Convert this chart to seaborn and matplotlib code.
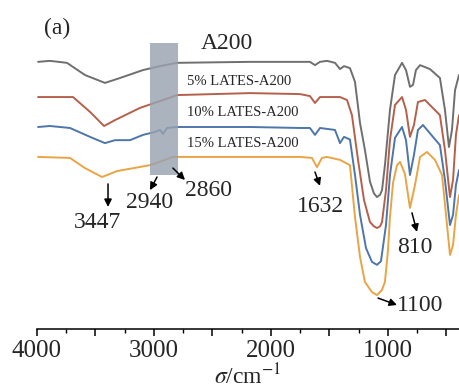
import numpy as np
import pandas as pd
import matplotlib
matplotlib.use("Agg")
import matplotlib.pyplot as plt
from matplotlib.patches import Rectangle
from matplotlib.ticker import MultipleLocator, FuncFormatter
import seaborn as sns

# ---- data (wavenumber in cm^-1, transmittance in arbitrary offset units) ----
wn_a200 = [3991, 3889, 3744, 3590, 3419, 3290, 3094, 2949, 2803, 2179, 1752, 1667, 1624, 1581,
           1521, 1453, 1410, 1376, 1325, 1282, 1239, 1197, 1154, 1120, 1094, 1068, 1051, 1026,
           983, 940, 880, 846, 812, 786, 761, 726, 641, 556, 513, 479, 453, 427, 393]
t_a200 = [81.2, 81.5, 80.9, 77.2, 74.8, 76.3, 78.7, 79.9, 80.9, 81.2, 81.2, 81.2, 80.2, 81.2,
          81.5, 80.9, 79.0, 79.9, 79.3, 75.1, 62.6, 54.4, 44.8, 41.2, 40.1, 40.8, 42.2, 49.8,
          66.6, 77.2, 80.9, 78.7, 73.6, 74.2, 78.7, 80.2, 79.0, 76.3, 66.6, 55.3, 60.5, 72.6, 77.2]

wn_5 = [3991, 3692, 3547, 3427, 3333, 3120, 2923, 2803, 2179, 1752, 1667, 1624, 1581, 1410,
        1350, 1308, 1256, 1205, 1154, 1120, 1094, 1068, 1051, 1017, 983, 940, 880, 846, 812,
        778, 744, 684, 556, 513, 470, 444, 419, 393]
t_5 = [70.5, 70.5, 66.0, 61.7, 63.5, 67.2, 69.6, 71.1, 71.7, 71.4, 70.8, 68.7, 70.5, 70.5,
       69.6, 65.0, 51.4, 39.2, 32.5, 31.2, 30.7, 31.2, 32.5, 42.2, 57.4, 68.1, 70.5, 66.6,
       58.4, 62.0, 69.0, 69.6, 65.0, 54.4, 40.1, 45.3, 59.0, 65.0]

wn_10 = [3991, 3889, 3718, 3547, 3419, 3333, 3205, 3094, 2991, 2949, 2923, 2889, 2803, 2179,
         1752, 1667, 1624, 1581, 1453, 1410, 1376, 1325, 1282, 1239, 1188, 1137, 1094, 1060,
         1017, 983, 940, 880, 846, 812, 778, 744, 701, 556, 513, 470, 444, 419, 393]
t_10 = [61.4, 61.7, 61.1, 58.4, 56.5, 57.4, 57.4, 59.0, 59.9, 60.5, 59.3, 61.1, 61.4, 61.4,
        61.1, 61.1, 59.0, 61.1, 60.5, 56.5, 58.4, 57.6, 46.8, 34.7, 24.6, 20.4, 19.5, 20.6,
        31.6, 46.8, 58.1, 61.4, 57.4, 46.8, 52.9, 60.5, 62.0, 55.9, 45.3, 31.6, 34.7, 43.8, 48.3]

wn_15 = [3991, 3718, 3590, 3444, 3316, 3034, 2906, 2838, 2179, 1752, 1650, 1607, 1564, 1521,
         1410, 1325, 1282, 1239, 1197, 1137, 1094, 1051, 1026, 1000, 983, 957, 923, 897, 855,
         812, 769, 726, 667, 598, 538, 504, 470, 444, 419, 393]
t_15 = [52.3, 52.0, 48.9, 46.2, 48.0, 49.8, 51.4, 52.3, 52.3, 52.3, 52.0, 49.2, 52.0, 52.3,
        51.4, 49.8, 34.0, 21.9, 14.3, 11.2, 10.3, 11.9, 14.3, 24.0, 34.0, 44.4, 49.8, 50.8,
        47.1, 36.8, 43.8, 52.3, 53.8, 51.4, 46.8, 34.7, 22.5, 25.5, 34.7, 40.7]

series_names = ["A200", "5% LATES-A200", "10% LATES-A200", "15% LATES-A200"]
series_colors = ["#6f6f6f", "#b5604b", "#4d76aa", "#e8a545"]

peak_labels = ["3447", "2940", "2860", "1632", "810", "1100"]
peak_text_xy = [(3487, 32.5), (3034, 38.3), (2530, 42.0), (1573, 37.1), (769, 24.9), (726, 7.0)]
peak_arrow_from = [(3393, 44.1), (2974, 46.2), (2838, 48.9), (1624, 47.7), (795, 35.3), (1085, 9.4)]
peak_arrow_to = [(3393, 37.1), (3034, 42.2), (2735, 45.3), (1581, 43.5), (752, 29.5), (923, 7.3)]

xticks_major = [4000, 3500, 3000, 2500, 2000, 1500, 1000, 500]

# ---- build long table ----
frames = []
for name, wn, t in zip(series_names,
                       [wn_a200, wn_5, wn_10, wn_15],
                       [t_a200, t_5, t_10, t_15]):
    frames.append(pd.DataFrame({"wn": wn, "T": t, "sample": name}))
df = pd.concat(frames, ignore_index=True)

sns.set_theme(style="white")
plt.rcParams["font.family"] = ["Liberation Serif", "DejaVu Serif"]
plt.rcParams["mathtext.fontset"] = "stix"

fig = plt.figure(figsize=(4.59, 3.91), dpi=100)
ax = fig.add_axes([37 / 459, (391 - 329) / 391, 1 - 37 / 459, 329 / 391])

sns.lineplot(data=df, x="wn", y="T", hue="sample", hue_order=series_names,
             palette=series_colors, estimator=None, sort=False, lw=1.4,
             legend=False, ax=ax)

ax.set_xlim(4000, 393)
ax.set_ylim(0, 100)

# highlight band
ax.add_patch(Rectangle((2795, 46.8), 3034 - 2795, 86.9 - 46.8,
                       facecolor="#99a2b0", edgecolor="none", alpha=0.82, zorder=3))

# texts
ax.text(3829, 91.5, "(a)", fontsize=17, ha="center", va="center")
ax.text(2376, 86.9, "A200", fontsize=17, ha="center", va="center")
for name, yv in zip(series_names[1:], [75.1, 65.7, 56.5]):
    ax.text(2718, yv, name, fontsize=10.5, ha="left", va="center")

for lab, txy, a0, a1 in zip(peak_labels, peak_text_xy, peak_arrow_from, peak_arrow_to):
    ax.text(txy[0], txy[1], lab, fontsize=17, ha="center", va="center")
    ax.annotate("", xy=a1, xytext=a0,
                arrowprops=dict(arrowstyle="-|>", color="black", lw=1.1,
                                mutation_scale=11, shrinkA=0, shrinkB=0), zorder=4)

# axes styling
for s in ["left", "right", "top"]:
    ax.spines[s].set_visible(False)
ax.spines["bottom"].set_color("black")
ax.spines["bottom"].set_linewidth(1.1)
ax.set_yticks([])
ax.set_xticks(xticks_major)
ax.xaxis.set_minor_locator(MultipleLocator(250))
ax.xaxis.set_major_formatter(FuncFormatter(lambda v, p: f"{int(v)}" if int(v) % 1000 == 0 else ""))
ax.tick_params(axis="x", which="major", direction="out", length=5, width=1.1,
               labelsize=18, pad=3, bottom=True, color="black")
ax.tick_params(axis="x", which="minor", direction="out", length=3, width=1.0,
               bottom=True, color="black")
ax.set_xlabel(r"$\sigma$/cm$^{-1}$", fontsize=17, labelpad=1)
ax.set_ylabel("")

fig.savefig("out.png", dpi=100)
